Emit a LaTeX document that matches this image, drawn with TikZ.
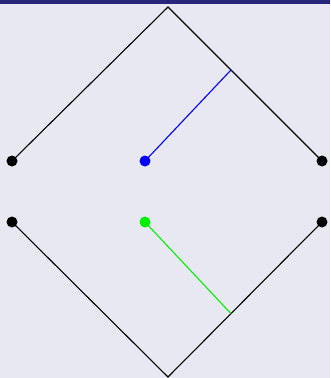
\documentclass[tikz,border=0pt]{standalone}
\usetikzlibrary{positioning,calc}
\definecolor{bgpanel}{RGB}{232,232,243}
\definecolor{topbar}{RGB}{38,38,122}
\definecolor{vgreen}{RGB}{0,240,0}
\tikzset{
  every picture/.style={line width=1.1pt},
  dot/.style={circle, fill=#1, inner sep=0pt, minimum size=11pt},
  dot/.default=black,
  edge/.style={draw=black, line width=1.1pt},
}
\begin{document}
\begin{tikzpicture}[x=1pt, y=-1pt]
  % panel and bar
  \fill[bgpanel] (0,0) rectangle (330,378);
  \fill[topbar] (0,0) rectangle (330,3.5);
  \useasboundingbox (0,0) rectangle (330,378);
  % upper wedge
  \coordinate (top) at (168,7);
  \coordinate (ul) at (12,161);
  \coordinate (ur) at (322,161);
  \coordinate (bluept) at (145,161);
  \coordinate (bluehit) at ($(top)!0.409!(ur)$);
  \draw[edge] (ul) -- (top) -- (ur);
  \draw[blue] (bluept) -- (bluehit);
  % lower wedge
  \coordinate (bot) at (168,377);
  \coordinate (ll) at (12,222);
  \coordinate (lr) at (322,222);
  \coordinate (greenpt) at (145,222);
  \coordinate (greenhit) at ($(bot)!0.409!(lr)$);
  \draw[edge] (ll) -- (bot) -- (lr);
  \draw[vgreen] (greenpt) -- (greenhit);
  % the dots
  \node[dot] (uldot) at (ul) {};
  \node[dot] (urdot) at (ur) {};
  \node[dot=blue] (bluedot) at (bluept) {};
  \node[dot] (lldot) at (ll) {};
  \node[dot] (lrdot) at (lr) {};
  \node[dot=vgreen] (greendot) at (greenpt) {};
\end{tikzpicture}
\end{document}
